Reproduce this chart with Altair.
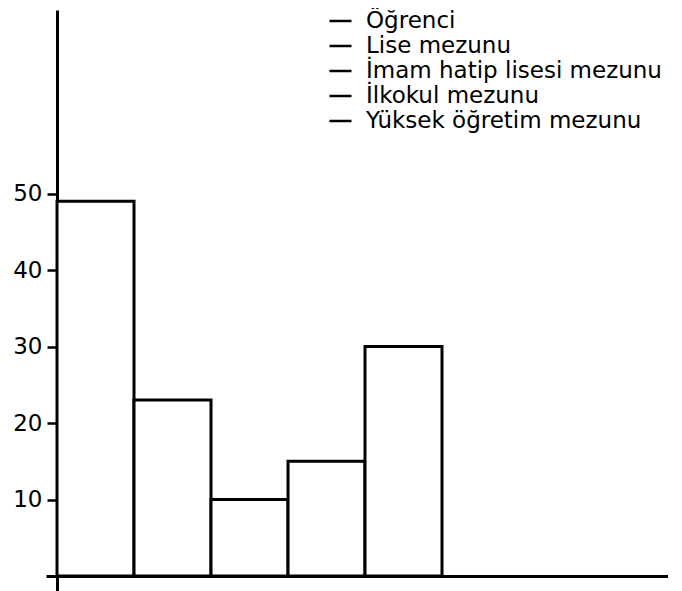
import altair as alt
import pandas as pd

categories = ["Öğrenci", "Lise mezunu", "İmam hatip lisesi mezunu", "İlkokul mezunu", "Yüksek öğretim mezunu"]
values = [49, 23, 10, 15, 30]
y_ticks = [10, 20, 30, 40, 50]

df = pd.DataFrame({
    "kategori": categories,
    "deger": values,
    "bas": list(range(len(categories))),
    "son": [i + 1 for i in range(len(categories))],
})

FONT = "DejaVu Sans"

bars = alt.Chart(df).mark_bar(fill="white", strokeWidth=3, strokeJoin="miter").encode(
    x=alt.X("bas:Q", scale=alt.Scale(domain=[-0.143, 7.935], nice=False, zero=False),
            axis=alt.Axis(title=None, labels=False, ticks=False, grid=False, domainColor="black",
                          domainWidth=3, offset=-15)),
    x2="son:Q",
    y=alt.Y("deger:Q", scale=alt.Scale(domain=[-1.96, 74], nice=False, zero=False),
            axis=alt.Axis(title=None, values=y_ticks, grid=False, domainColor="black", domainWidth=3,
                          tickColor="black", tickWidth=2.5, tickSize=10, labelPadding=5,
                          labelFont=FONT, labelFontSize=23, labelColor="black", offset=-11)),
    y2=alt.datum(0),
    stroke=alt.Stroke("kategori:N", sort=categories,
                      scale=alt.Scale(domain=categories, range=["black"] * len(categories)),
                      legend=alt.Legend(title=None, orient="none", legendX=282, legendY=-1.5,
                                        symbolType="stroke", symbolSize=484, symbolStrokeWidth=2.5,
                                        labelOffset=13, labelFont=FONT, labelFontSize=23,
                                        labelColor="black", labelLimit=500, rowPadding=-2.3,
                                        padding=0)),
)

chart = bars.properties(
    width=622,
    height=581,
    padding={"left": 38, "top": 2, "right": 0, "bottom": 0},
    autosize=alt.AutoSizeParams(type="none"),
).configure_view(stroke=None)

chart.save("out.html", embed_options={"renderer": "svg", "actions": False})
